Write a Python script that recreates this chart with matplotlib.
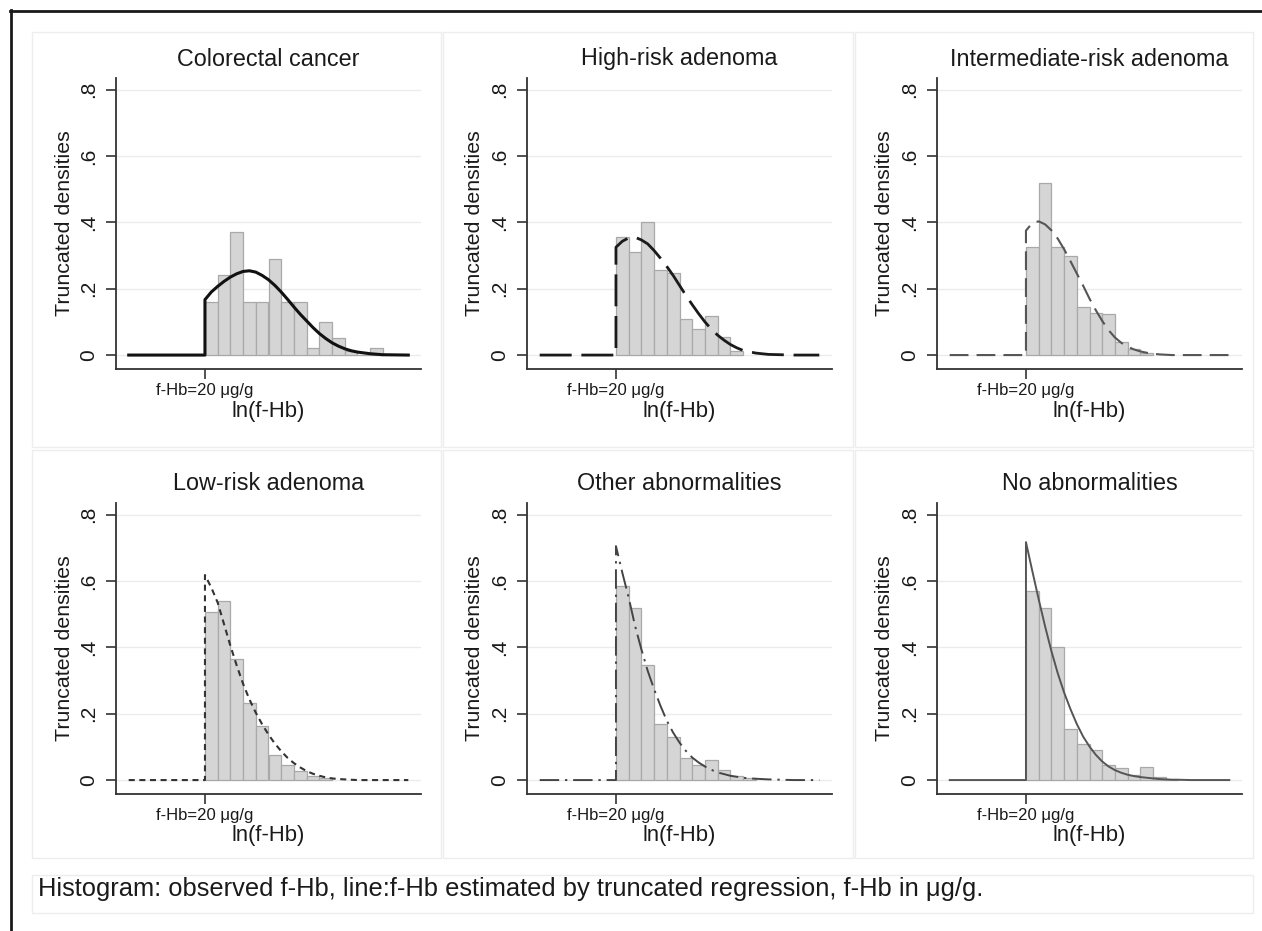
import matplotlib
matplotlib.use("Agg")
import matplotlib.pyplot as plt
from matplotlib.lines import Line2D
from matplotlib.patches import Rectangle

plt.rcParams['font.family'] = ['Liberation Sans', 'DejaVu Sans']

W, H = 1262, 931          # output size in pixels
TXT = "#1a1a1a"

titles = ["Colorectal cancer", "High-risk adenoma", "Intermediate-risk adenoma",
          "Low-risk adenoma", "Other abnormalities", "No abnormalities"]

threshold = 3.0           # ln(20 ug/g), truncation point
bin_width = 0.5

# observed f-Hb histograms (density per bin, starting at the threshold)
hist_crc = [0.16, 0.24, 0.37, 0.16, 0.16, 0.29, 0.16, 0.16, 0.022, 0.10, 0.05, 0.012, 0.0, 0.022]
hist_hra = [0.357, 0.31, 0.40, 0.255, 0.247, 0.11, 0.08, 0.117, 0.053, 0.012]
hist_ira = [0.326, 0.52, 0.326, 0.298, 0.145, 0.128, 0.123, 0.04, 0.017, 0.005]
hist_lra = [0.508, 0.54, 0.365, 0.233, 0.163, 0.075, 0.046, 0.026, 0.013, 0.006]
hist_oth = [0.585, 0.518, 0.346, 0.168, 0.131, 0.067, 0.046, 0.061, 0.031, 0.011, 0.007]
hist_noa = [0.57, 0.518, 0.402, 0.155, 0.11, 0.09, 0.045, 0.035, 0.015, 0.038, 0.008, 0.003]

# truncated-regression densities, read at these ln(f-Hb) points (zero below threshold)
fit_x = [3.0, 3.25, 3.5, 3.75, 4.0, 4.25, 4.5, 4.75, 5.0, 5.25, 5.5, 5.75, 6.0, 6.25,
         6.5, 6.75, 7.0, 7.25, 7.5, 7.75, 8.0, 8.25, 8.5, 8.75, 9.0, 9.5, 10.0, 11.0]
fit_crc = [0.167, 0.19, 0.207, 0.222, 0.235, 0.245, 0.252, 0.254, 0.25, 0.24, 0.227, 0.21,
           0.19, 0.168, 0.145, 0.123, 0.103, 0.083, 0.065, 0.05, 0.037, 0.027, 0.019,
           0.013, 0.009, 0.004, 0.001, 0.0]
fit_hra = [0.325, 0.343, 0.353, 0.355, 0.347, 0.335, 0.315, 0.292, 0.267, 0.24, 0.21, 0.18,
           0.152, 0.125, 0.10, 0.078, 0.06, 0.045, 0.032, 0.022, 0.014, 0.01, 0.006,
           0.004, 0.002, 0.001, 0.0, 0.0]
fit_ira = [0.375, 0.398, 0.403, 0.394, 0.376, 0.351, 0.319, 0.283, 0.246, 0.209, 0.17, 0.135,
           0.103, 0.075, 0.053, 0.037, 0.025, 0.017, 0.011, 0.007, 0.004, 0.002, 0.001,
           0.0, 0.0, 0.0, 0.0, 0.0]
fit_lra = [0.618, 0.58, 0.535, 0.47, 0.405, 0.345, 0.29, 0.243, 0.203, 0.168, 0.137, 0.11,
           0.087, 0.067, 0.051, 0.038, 0.027, 0.019, 0.013, 0.008, 0.005, 0.003, 0.002,
           0.001, 0.0, 0.0, 0.0, 0.0]
fit_oth = [0.705, 0.625, 0.55, 0.465, 0.394, 0.329, 0.274, 0.224, 0.179, 0.143, 0.113, 0.088,
           0.068, 0.053, 0.041, 0.031, 0.023, 0.018, 0.013, 0.01, 0.007, 0.005, 0.004,
           0.003, 0.002, 0.001, 0.0, 0.0]
fit_noa = [0.717, 0.63, 0.545, 0.464, 0.389, 0.322, 0.264, 0.214, 0.169, 0.131, 0.101, 0.076,
           0.056, 0.041, 0.03, 0.022, 0.016, 0.012, 0.009, 0.007, 0.005, 0.003, 0.002,
           0.001, 0.001, 0.0, 0.0, 0.0]

hists = [hist_crc, hist_hra, hist_ira, hist_lra, hist_oth, hist_noa]
fits = [fit_crc, fit_hra, fit_ira, fit_lra, fit_oth, fit_noa]

line_styles = [
    dict(color="#111111", lw=2.2, ls="-"),
    dict(color="#1a1a1a", lw=2.0, ls=(0, (11.5, 3.5))),
    dict(color="#555555", lw=1.5, ls=(0, (9, 3.9))),
    dict(color="#333333", lw=1.5, ls=(0, (2.9, 2.2))),
    dict(color="#444444", lw=1.4, ls=(0, (10, 3, 1.2, 3))),
    dict(color="#555555", lw=1.4, ls="-"),
]

fig = plt.figure(figsize=(W / 100, H / 100), dpi=100)
fig.patch.set_facecolor("white")

def fx(x):
    return x / W

def fy(y):
    return 1 - y / H

# faint Stata graph-region frames
for (x0, y0, x1, y1) in [(32, 32, 441, 447), (443, 32, 853, 447), (855, 32, 1253, 447),
                         (32, 450, 441, 858), (443, 450, 853, 858), (855, 450, 1253, 858),
                         (32, 875, 1253, 913)]:
    fig.add_artist(Rectangle((fx(x0), fy(y1)), fx(x1 - x0), (y1 - y0) / H,
                             transform=fig.transFigure, fill=False, ec="#ededed", lw=1))

# outer border (top and left only)
fig.add_artist(Line2D([fx(9.5), 1], [fy(10.5), fy(10.5)], color="#1a1a1a", lw=2))
fig.add_artist(Line2D([fx(10.5), fx(10.5)], [fy(9.5), 0], color="#1a1a1a", lw=2))

col_left = [116, 527, 937]
row_top = [78, 503]
ax_w, ax_h = 305, 291

for i, title in enumerate(titles):
    r, c = divmod(i, 3)
    left, top = col_left[c], row_top[r]
    ax = fig.add_axes([fx(left), fy(top + ax_h), ax_w / W, ax_h / H])
    ax.set_xlim(-0.5, 11.5)
    ax.set_ylim(-0.042, 0.835)

    ax.grid(axis="y", color="#ebebeb", lw=1, zorder=0)
    ax.set_axisbelow(True)

    edges = [threshold + k * bin_width for k in range(len(hists[i]))]
    ax.bar(edges, hists[i], width=bin_width, align="edge",
           color="#d5d5d5", edgecolor="#a9a9a9", lw=0.9, zorder=2)

    cx = [0.0, threshold] + fit_x
    cy = [0.0, 0.0] + fits[i]
    st = line_styles[i]
    ax.plot(cx, cy, color=st["color"], lw=st["lw"], linestyle=st["ls"],
            zorder=3, solid_joinstyle="round")

    for s in ["top", "right"]:
        ax.spines[s].set_visible(False)
    for s in ["left", "bottom"]:
        ax.spines[s].set_color("#333333")
        ax.spines[s].set_linewidth(1.3)

    ax.set_yticks([0, 0.2, 0.4, 0.6, 0.8])
    ax.set_yticklabels(["0", ".2", ".4", ".6", ".8"], rotation=90, va="center")
    ax.set_xticks([threshold])
    ax.set_xticklabels(["f-Hb=20 μg/g"])
    ax.tick_params(axis="y", length=7, width=1.2, color="#333333", pad=6,
                   labelsize=15, labelcolor=TXT)
    ax.tick_params(axis="x", length=7, width=1.2, color="#333333", pad=3,
                   labelsize=12, labelcolor=TXT)

    ax.text(0.5, 1 + 19 / ax_h, title, transform=ax.transAxes, ha="center",
            va="center", fontsize=16.8, color=TXT)
    ax.text(-52 / ax_w, 0.5, "Truncated densities", transform=ax.transAxes,
            rotation=90, ha="center", va="center", fontsize=15.4, color=TXT)
    ax.text(0.5, -42 / ax_h, "ln(f-Hb)", transform=ax.transAxes, ha="center",
            va="center", fontsize=15.8, color=TXT)

fig.text(fx(38), fy(889), "Histogram: observed f-Hb, line:f-Hb estimated by truncated "
         "regression, f-Hb in μg/g.", ha="left", va="center", fontsize=18.4, color=TXT)

fig.savefig("out.png", dpi=100)
